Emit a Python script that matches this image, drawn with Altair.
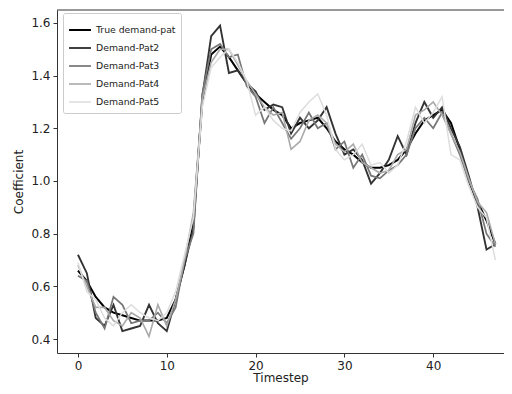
import altair as alt
import pandas as pd

timesteps = list(range(48))
series_names = ["True demand-pat", "Demand-Pat2", "Demand-Pat3", "Demand-Pat4", "Demand-Pat5"]
series_colors = ["#000000", "#333333", "#777777", "#aaaaaa", "#dddddd"]
series_widths = [2.0, 1.5, 1.5, 1.5, 1.5]

true_pat = [0.66, 0.62, 0.56, 0.52, 0.50, 0.49, 0.48, 0.47, 0.47, 0.47, 0.48, 0.55,
            0.68, 0.85, 1.30, 1.48, 1.51, 1.47, 1.42, 1.37, 1.33, 1.30, 1.27, 1.25,
            1.20, 1.22, 1.23, 1.24, 1.20, 1.15, 1.12, 1.10, 1.07, 1.05, 1.05, 1.06,
            1.08, 1.12, 1.18, 1.23, 1.25, 1.27, 1.22, 1.12, 1.00, 0.92, 0.85, 0.76]
pat2 = [0.72, 0.65, 0.48, 0.45, 0.53, 0.43, 0.44, 0.45, 0.53, 0.46, 0.43, 0.55,
        0.68, 0.82, 1.32, 1.55, 1.59, 1.41, 1.42, 1.37, 1.34, 1.27, 1.29, 1.28,
        1.18, 1.24, 1.20, 1.23, 1.28, 1.18, 1.10, 1.12, 1.08, 0.99, 1.03, 1.08,
        1.17, 1.10, 1.22, 1.30, 1.24, 1.28, 1.20, 1.13, 1.02, 0.90, 0.74, 0.76]
pat3 = [0.64, 0.62, 0.50, 0.44, 0.56, 0.53, 0.46, 0.47, 0.47, 0.50, 0.46, 0.52,
        0.70, 0.80, 1.33, 1.50, 1.52, 1.47, 1.48, 1.36, 1.32, 1.22, 1.28, 1.22,
        1.16, 1.20, 1.26, 1.20, 1.22, 1.12, 1.15, 1.05, 1.10, 1.02, 1.01, 1.04,
        1.06, 1.10, 1.20, 1.24, 1.20, 1.26, 1.18, 1.10, 1.00, 0.93, 0.80, 0.75]
pat4 = [0.68, 0.60, 0.52, 0.52, 0.47, 0.45, 0.50, 0.48, 0.41, 0.53, 0.45, 0.55,
        0.70, 0.88, 1.31, 1.45, 1.50, 1.50, 1.44, 1.38, 1.33, 1.28, 1.25, 1.26,
        1.12, 1.15, 1.23, 1.25, 1.22, 1.14, 1.11, 1.14, 1.07, 1.05, 1.03, 1.04,
        1.10, 1.12, 1.25, 1.27, 1.30, 1.25, 1.18, 1.11, 1.01, 0.92, 0.88, 0.76]
pat5 = [0.69, 0.58, 0.55, 0.48, 0.45, 0.50, 0.53, 0.50, 0.48, 0.47, 0.50, 0.58,
        0.72, 0.86, 1.28, 1.43, 1.47, 1.50, 1.45, 1.38, 1.25, 1.28, 1.23, 1.20,
        1.19, 1.26, 1.30, 1.33, 1.25, 1.12, 1.08, 1.10, 1.14, 1.06, 1.07, 1.03,
        1.06, 1.15, 1.28, 1.22, 1.26, 1.32, 1.10, 1.08, 0.98, 0.90, 0.86, 0.70]

all_series = [true_pat, pat2, pat3, pat4, pat5]
rows = []
for order, (name, vals) in enumerate(zip(series_names, all_series)):
    for t, v in zip(timesteps, vals):
        rows.append({"Timestep": t, "Coefficient": v, "series": name, "order": order})
df = pd.DataFrame(rows)

font = "DejaVu Sans"

lines = alt.Chart(df).mark_line(clip=True).encode(
    x=alt.X("Timestep:Q",
            scale=alt.Scale(domain=[-2.36, 47.97], nice=False, zero=False),
            axis=alt.Axis(title="Timestep", values=[0, 10, 20, 30, 40], grid=False,
                          tickSize=4, tickColor="#333", domainColor="#333",
                          labelFontSize=12, titleFontSize=12, titleFontWeight="normal",
                          labelColor="#222", titleColor="#222", labelFont=font,
                          titleFont=font, titlePadding=1, labelPadding=3)),
    y=alt.Y("Coefficient:Q",
            scale=alt.Scale(domain=[0.347, 1.649], nice=False, zero=False),
            axis=alt.Axis(title="Coefficient", values=[0.4, 0.6, 0.8, 1.0, 1.2, 1.4, 1.6],
                          format=".1f", grid=False,
                          tickSize=4, tickColor="#333", domainColor="#333",
                          labelFontSize=12, titleFontSize=12, titleFontWeight="normal",
                          labelColor="#222", titleColor="#222", labelFont=font,
                          titleFont=font, titlePadding=5, labelPadding=3)),
    color=alt.Color("series:N",
                    scale=alt.Scale(domain=series_names, range=series_colors),
                    sort=series_names,
                    legend=alt.Legend(title=None, orient="none", legendX=6, legendY=3,
                                      symbolType="stroke", symbolSize=480,
                                      labelFontSize=9.3, labelFont=font, labelColor="#222",
                                      rowPadding=-9, padding=5, strokeColor="#ccc",
                                      fillColor="white", cornerRadius=2,
                                      symbolStrokeWidth=2)),
    strokeWidth=alt.StrokeWidth("series:N",
                                scale=alt.Scale(domain=series_names, range=series_widths),
                                legend=None),
    order=alt.Order("order:Q", sort="descending"),
    detail="series:N",
)

top_rule = alt.Chart(pd.DataFrame({"a": [0]})).mark_rule(color="#333", strokeWidth=1).encode(
    y=alt.value(0), x=alt.value(0), x2=alt.value(447)
)

chart = alt.layer(lines, top_rule).properties(
    width=447, height=343,
    autosize=alt.AutoSizeParams(type="none"),
    padding={"left": 49, "top": 2, "right": 0, "bottom": 33},
).configure_view(stroke=None)

chart.save("out.html", embed_options={"renderer": "svg", "actions": False})
